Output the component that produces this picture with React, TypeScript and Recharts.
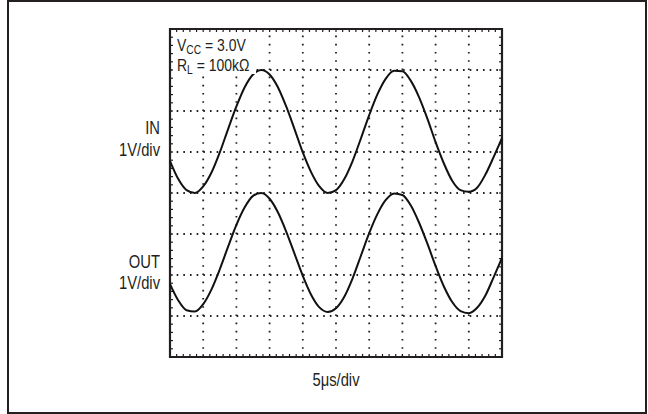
import React from 'react'
import { LineChart, Line, XAxis, YAxis, ReferenceLine, ReferenceArea } from 'recharts'

// time in divisions (5µs/div), 0..10
const timeDiv = [
  0, 0.25, 0.5, 0.75, 1, 1.25, 1.5, 1.75, 2, 2.25, 2.5, 2.75, 3, 3.25, 3.5, 3.75, 4, 4.25, 4.5, 4.75,
  5, 5.25, 5.5, 5.75, 6, 6.25, 6.5, 6.75, 7, 7.25, 7.5, 7.75, 8, 8.25, 8.5, 8.75, 9, 9.25, 9.5, 9.75, 10,
]
// screen divisions from the bottom of the graticule (0..8)
const inTrace = [
  4.78, 4.34, 4.07, 4.0, 4.16, 4.5, 4.99, 5.56, 6.11, 6.58, 6.89, 7.0, 6.89, 6.58, 6.11, 5.56, 4.99, 4.51, 4.16, 4.0,
  4.07, 4.34, 4.78, 5.33, 5.9, 6.41, 6.79, 6.98, 6.97, 6.74, 6.34, 5.82, 5.24, 4.72, 4.3, 4.07, 4.03, 4.13, 4.45, 4.88, 5.34,
]
const outTrace = [
  1.78, 1.38, 1.14, 1.11, 1.29, 1.65, 2.14, 2.69, 3.22, 3.65, 3.93, 4.0, 3.86, 3.53, 3.06, 2.52, 1.98, 1.52, 1.21, 1.1,
  1.19, 1.47, 1.92, 2.47, 3.02, 3.49, 3.83, 3.99, 3.95, 3.7, 3.28, 2.77, 2.22, 1.72, 1.34, 1.12, 1.07, 1.2, 1.5, 1.95, 2.42,
]
const xMajor = [1, 2, 3, 4, 5, 6, 7, 8, 9]
const yMajor = [1, 2, 3, 4, 5, 6, 7]
// minor ticks on the graticule border, 5 per division
const xMinor = Array.from({ length: 49 }, (_, i) => (i + 1) / 5)
const yMinor = Array.from({ length: 39 }, (_, i) => (i + 1) / 5)
const tickX = 0.09 // tick length in x-divisions (~3px)
const tickY = 0.075 // tick length in y-divisions (~3px)

const data = timeDiv.map((t, i) => ({ t, vin: inTrace[i], vout: outTrace[i] }))

const ink = '#231f20'
const font = '"Liberation Sans", Arial, Helvetica, sans-serif'

export default function App() {
  const label = (
    top: number,
    text: React.ReactNode,
    extra: React.CSSProperties = {},
    origin = 'right',
  ) => (
    <div
      style={{
        position: 'absolute',
        top,
        fontSize: 18,
        lineHeight: '18px',
        color: ink,
        whiteSpace: 'nowrap',
        transform: 'scaleX(0.82)',
        transformOrigin: origin + ' center',
        ...extra,
      }}
    >
      {text}
    </div>
  )
  const sub = (s: string) => (
    <span style={{ fontSize: 12.5, position: 'relative', top: 3 }}>{s}</span>
  )
  return (
    <div style={{ position: 'absolute', left: 0, top: 0, width: 648, height: 414, background: '#fff', fontFamily: font }}>
      <div
        style={{
          position: 'absolute', left: 7, top: 0, width: 640, height: 414,
          boxSizing: 'border-box', border: `2.8px solid ${ink}`,
        }}
      />
      <LineChart width={648} height={414} data={data} margin={{ top: 29, right: 146, bottom: 57, left: 170 }}>
        <XAxis dataKey="t" type="number" domain={[0, 10]} hide />
        <YAxis type="number" domain={[0, 8]} hide />
        {xMajor.map((v) => (
          <ReferenceLine key={'gx' + v} x={v} stroke={ink} strokeWidth={1.8} strokeDasharray="1.6 6.6" />
        ))}
        {yMajor.map((v) => (
          <ReferenceLine key={'gy' + v} y={v} stroke={ink} strokeWidth={1.8} strokeDasharray="1.6 5.06" />
        ))}
        {xMinor.map((v) => (
          <ReferenceLine key={'tb' + v} segment={[{ x: v, y: 0 }, { x: v, y: tickY }]} stroke={ink} strokeWidth={1.2} />
        ))}
        {xMinor.map((v) => (
          <ReferenceLine key={'tt' + v} segment={[{ x: v, y: 8 }, { x: v, y: 8 - tickY }]} stroke={ink} strokeWidth={1.2} />
        ))}
        {yMinor.map((v) => (
          <ReferenceLine key={'tl' + v} segment={[{ x: 0, y: v }, { x: tickX, y: v }]} stroke={ink} strokeWidth={1.2} />
        ))}
        {yMinor.map((v) => (
          <ReferenceLine key={'tr' + v} segment={[{ x: 10, y: v }, { x: 10 - tickX, y: v }]} stroke={ink} strokeWidth={1.2} />
        ))}
        <ReferenceArea x1={0} x2={10} y1={0} y2={8} fill="none" fillOpacity={0} stroke={ink} strokeWidth={2.2} />
        <Line dataKey="vin" type="monotone" stroke="#111" strokeWidth={2} dot={false} isAnimationActive={false} />
        <Line dataKey="vout" type="monotone" stroke="#111" strokeWidth={2} dot={false} isAnimationActive={false} />
      </LineChart>
      {/* white patch behind the supply annotation, as on the scope shot */}
      <div style={{ position: 'absolute', left: 174, top: 32, width: 82, height: 42, background: '#fff' }} />
      {label(36.6, <>V{sub('CC')} = 3.0V</>, { left: 177, fontSize: 17 }, 'left')}
      {label(57.3, <>R{sub('L')} = 100kΩ</>, { left: 177, fontSize: 17 }, 'left')}
      {label(119.3, 'IN', { right: 648 - 160, textAlign: 'right' })}
      {label(141, '1V/div', { right: 648 - 160, textAlign: 'right' })}
      {label(252.6, 'OUT', { right: 648 - 160, textAlign: 'right' })}
      {label(274.3, '1V/div', { right: 648 - 160, textAlign: 'right' })}
      {label(371, '5μs/div', { left: 170, width: 332, textAlign: 'center' }, 'center')}
    </div>
  )
}
